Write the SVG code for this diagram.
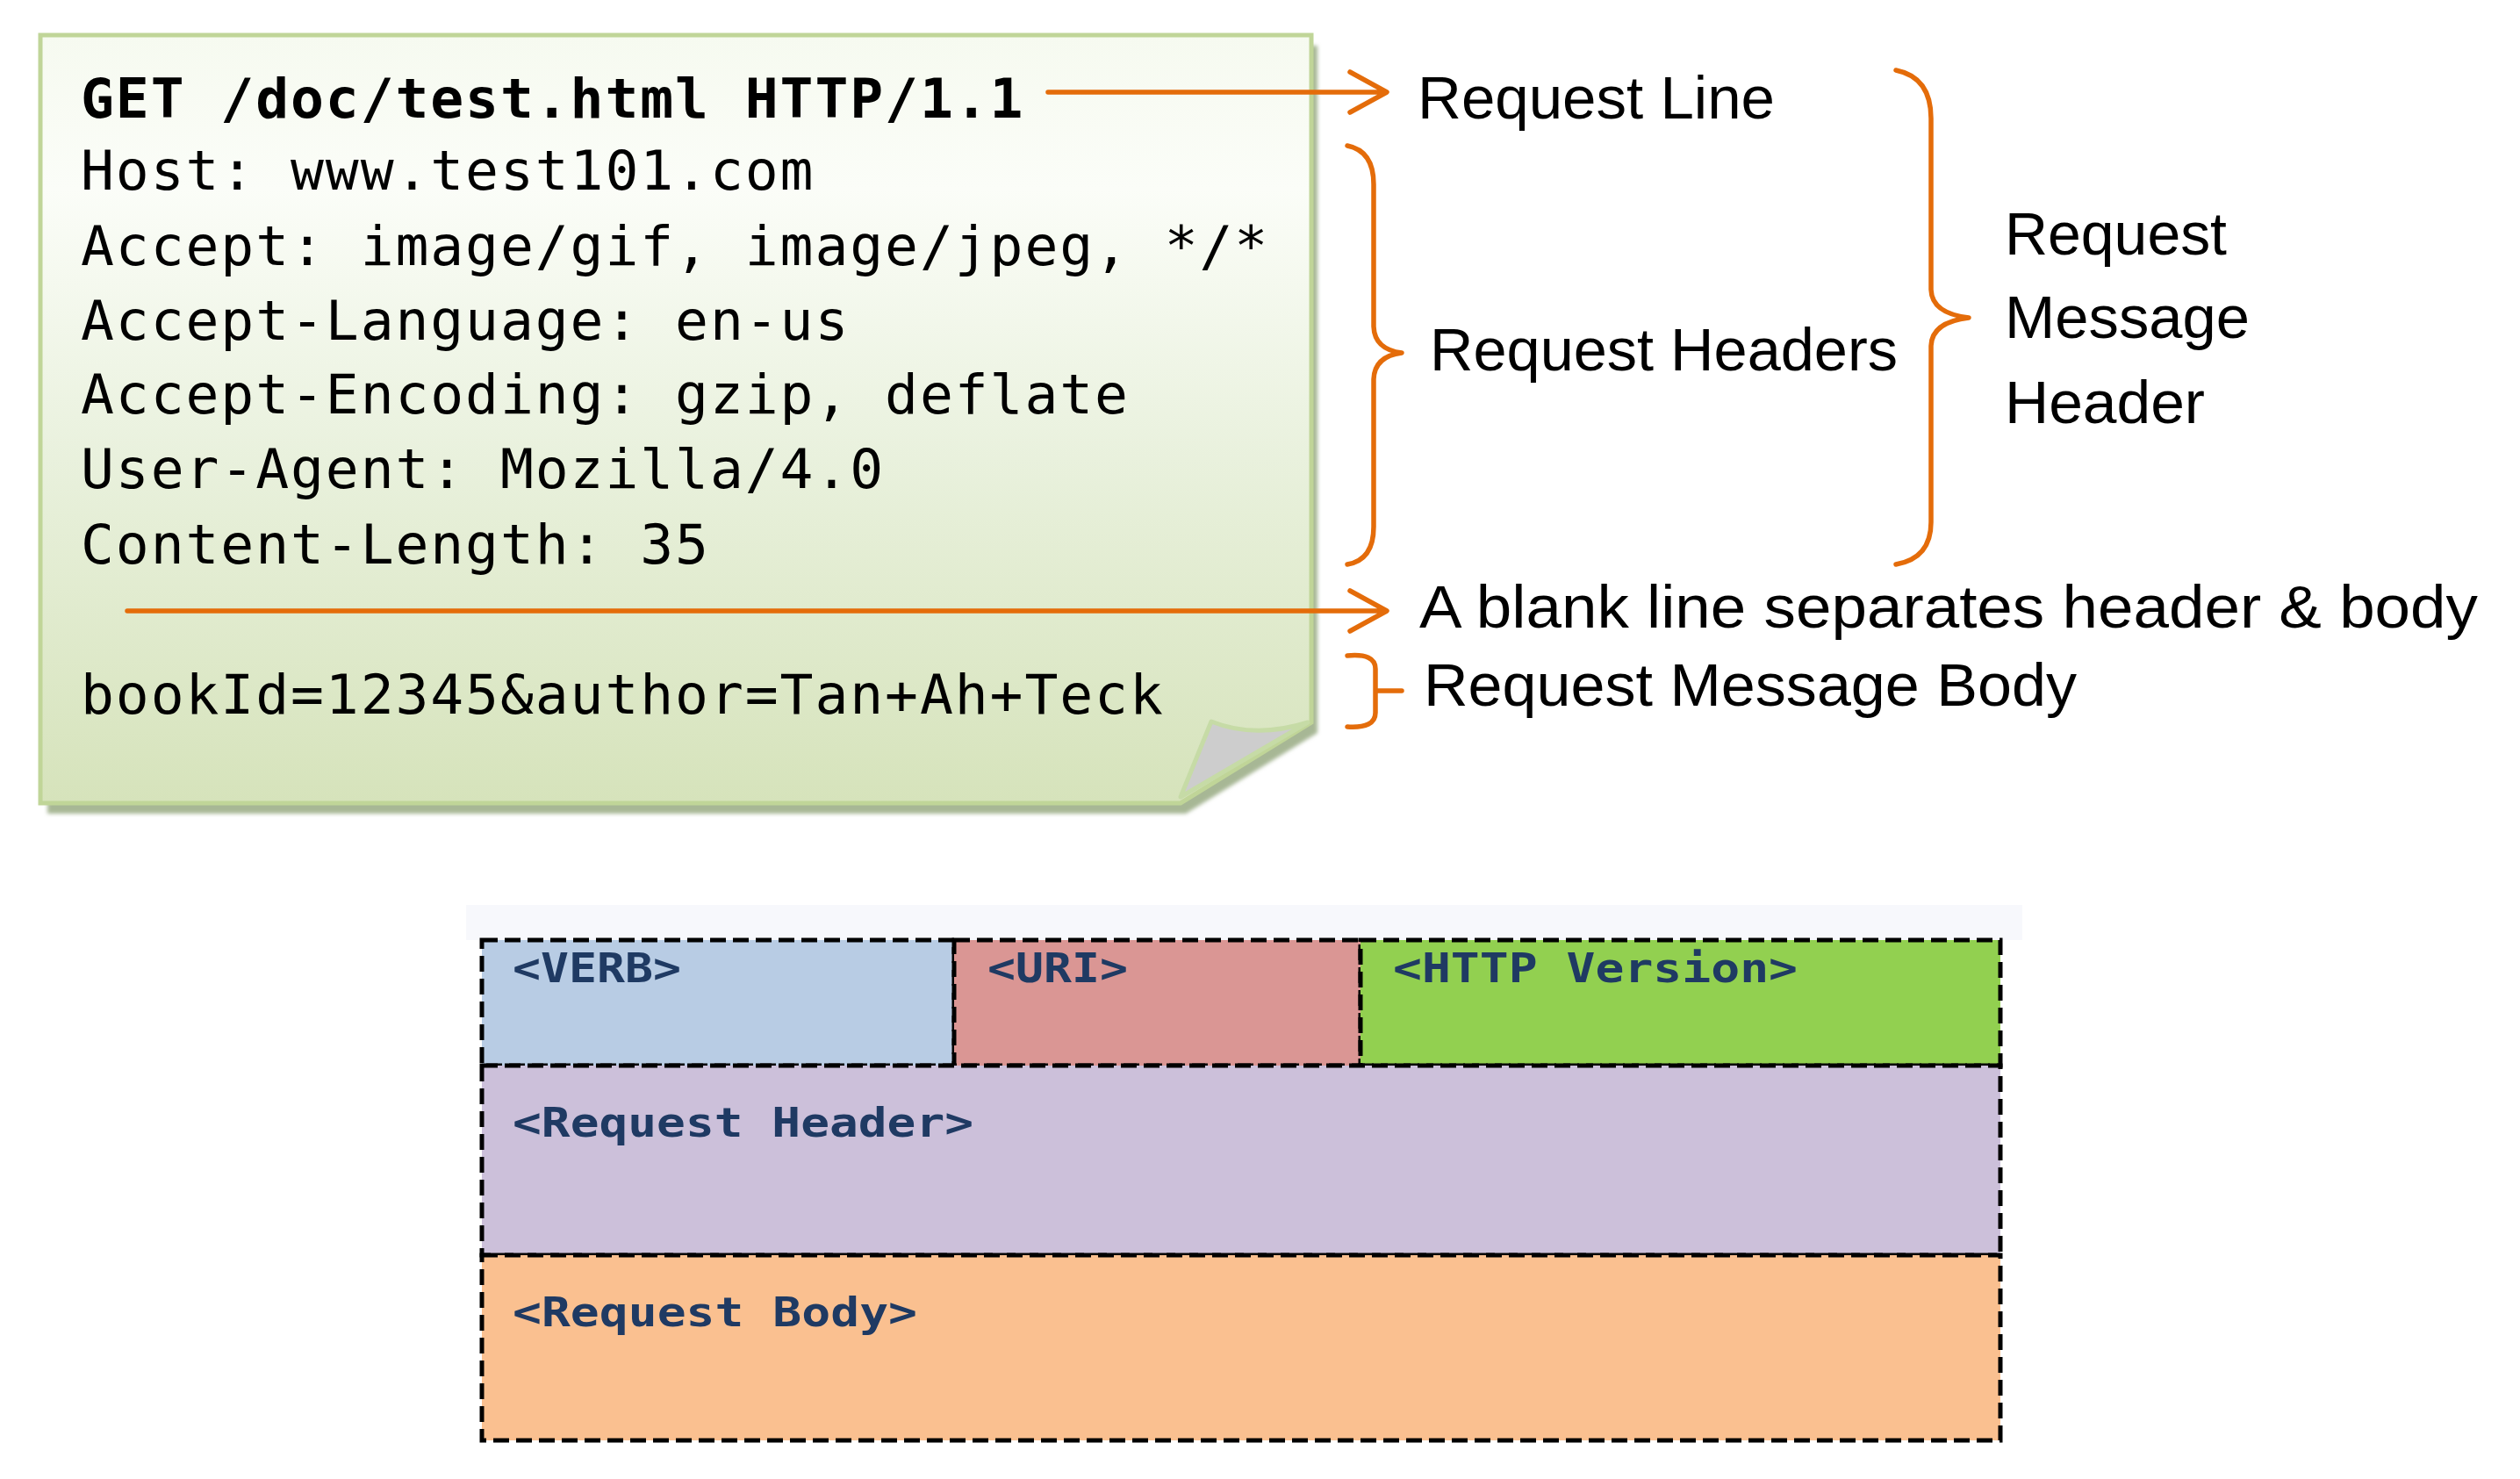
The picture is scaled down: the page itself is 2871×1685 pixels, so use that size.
<svg xmlns="http://www.w3.org/2000/svg" width="2871" height="1685" viewBox="0 0 2871 1685">
<defs>
<linearGradient id="noteFill" x1="0" y1="0" x2="0" y2="1">
<stop offset="0" stop-color="#f6faf0"/>
<stop offset="0.2" stop-color="#fbfdf8"/>
<stop offset="0.55" stop-color="#e9f1dd"/>
<stop offset="1" stop-color="#d6e3bb"/>
</linearGradient>
<filter id="soft" x="-5%" y="-5%" width="110%" height="110%"><feGaussianBlur stdDeviation="2"/></filter>
</defs>
<style>
.mono{font-family:"DejaVu Sans Mono","Liberation Mono",monospace;font-size:63px;letter-spacing:1.9px;fill:#000}
.lbl{font-family:"Liberation Sans",Arial,sans-serif;font-size:68px;fill:#000}
.cell{stroke:#000;stroke-width:5;stroke-dasharray:18 8}
.cl{font-family:"DejaVu Sans Mono","Liberation Mono",monospace;font-weight:bold;font-size:46px;fill:#1f3a63}
.or{fill:none;stroke:#e46c0a;stroke-width:5.5;stroke-linecap:round;stroke-linejoin:round}
</style>
<rect width="2871" height="1685" fill="#ffffff"/>

<g id="note">
<polygon points="54,52 1501,52 1501,835 1351,927 54,927" fill="#a7b795" filter="url(#soft)"/>
<polygon points="46,40 1494,40 1494,823 1345,915 46,915" fill="url(#noteFill)" stroke="#c0d598" stroke-width="5"/>
<path d="M1380,822 Q1430,842 1490,823 L1345,908 Z" fill="#cdcdcd" stroke="#c6dba6" stroke-width="5" stroke-linejoin="round"/>
<text class="mono" x="92" y="134" font-weight="bold">GET /doc/test.html HTTP/1.1</text>
<text class="mono" x="92" y="216">Host: www.test101.com</text>
<text class="mono" x="92" y="302">Accept: image/gif, image/jpeg, */*</text>
<text class="mono" x="92" y="387">Accept-Language: en-us</text>
<text class="mono" x="92" y="471">Accept-Encoding: gzip, deflate</text>
<text class="mono" x="92" y="556">User-Agent: Mozilla/4.0</text>
<text class="mono" x="92" y="642">Content-Length: 35</text>
<text class="mono" x="92" y="813">bookId=12345&amp;author=Tan+Ah+Teck</text>
</g>

<g id="connectors">
<path class="or" d="M1194,105 L1578,105 M1538,82 L1580,105 L1538,128"/>
<path class="or" d="M145,696 L1578,696 M1538,673 L1580,696 L1538,719"/>
<path class="or" d="M1535,166 Q1565,172 1565,210 L1565,372 Q1566,398 1597,402 Q1566,406 1565,432 L1565,600 Q1565,638 1535,643"/>
<path class="or" d="M2160,80 Q2200,88 2200,135 L2200,330 Q2201,357 2243,362 Q2201,367 2200,394 L2200,595 Q2200,636 2160,643"/>
<path class="or" d="M1535,747 Q1567,744 1567,762 L1567,787 L1597,787 M1567,787 L1567,812 Q1567,830 1535,828"/>
</g>

<g id="labels">
<text class="lbl" x="1615" y="135" textLength="407" lengthAdjust="spacingAndGlyphs">Request Line</text>
<text class="lbl" x="1629" y="422" textLength="533" lengthAdjust="spacingAndGlyphs">Request Headers</text>
<text class="lbl" x="2284" y="290" textLength="253" lengthAdjust="spacingAndGlyphs">Request</text>
<text class="lbl" x="2284" y="385" textLength="279" lengthAdjust="spacingAndGlyphs">Message</text>
<text class="lbl" x="2284" y="482" textLength="228" lengthAdjust="spacingAndGlyphs">Header</text>
<text class="lbl" x="1617" y="715" textLength="1206" lengthAdjust="spacingAndGlyphs">A blank line separates header &amp; body</text>
<text class="lbl" x="1622" y="804" textLength="744" lengthAdjust="spacingAndGlyphs">Request Message Body</text>
</g>

<g id="structure">
<rect x="531" y="1031" width="1773" height="40" fill="#f7f8fc"/>
<g id="verb"><rect class="cell" x="549" y="1071" width="538" height="143" fill="#b8cce4"/>
<text class="cl" x="584" y="1119" textLength="192" lengthAdjust="spacingAndGlyphs">&lt;VERB&gt;</text></g>
<g id="uri"><rect class="cell" x="1087" y="1071" width="463" height="143" fill="#da9694"/>
<text class="cl" x="1125" y="1119" textLength="160" lengthAdjust="spacingAndGlyphs">&lt;URI&gt;</text></g>
<g id="version"><rect class="cell" x="1550" y="1071" width="729" height="143" fill="#92d050"/>
<text class="cl" x="1587" y="1119" textLength="461" lengthAdjust="spacingAndGlyphs">&lt;HTTP Version&gt;</text></g>
<g id="header"><rect class="cell" x="549" y="1214" width="1730" height="216" fill="#ccc0da"/>
<text class="cl" x="584" y="1295" textLength="525" lengthAdjust="spacingAndGlyphs">&lt;Request Header&gt;</text></g>
<g id="body"><rect class="cell" x="549" y="1430" width="1730" height="211" fill="#fac090"/>
<text class="cl" x="584" y="1511" textLength="461" lengthAdjust="spacingAndGlyphs">&lt;Request Body&gt;</text></g>
</g>
</svg>
